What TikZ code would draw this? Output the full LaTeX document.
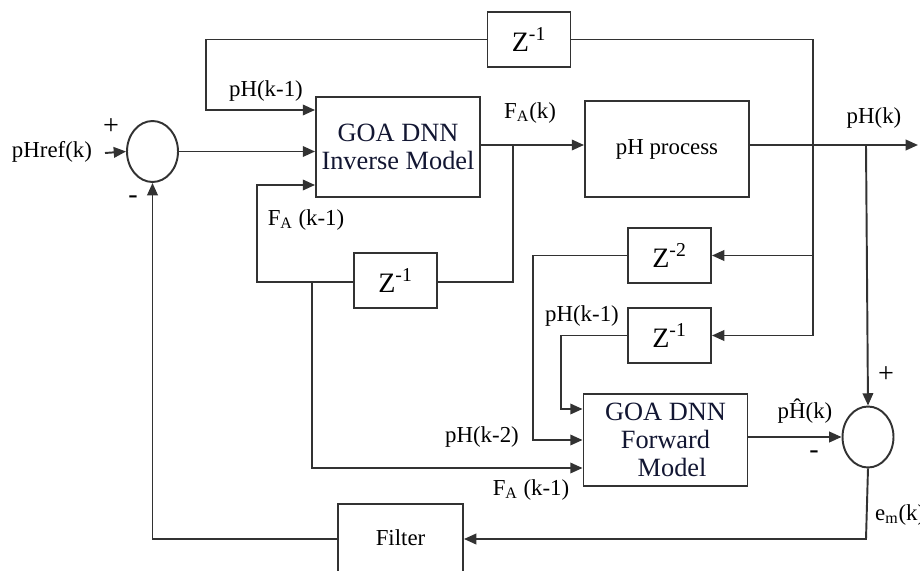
\documentclass[tikz,border=0pt]{standalone}
\usepackage{fontspec}
\setmainfont{Liberation Serif}
\usetikzlibrary{arrows.meta,shapes.geometric,positioning,calc}
\definecolor{linegray}{RGB}{50,50,50}
\definecolor{modelink}{RGB}{18,22,50}
\tikzset{
  blockbox/.style  = {draw=linegray, line width=1.1pt, inner sep=0pt,
                      font=\fontsize{13}{15}\selectfont},
  delaybox/.style  = {blockbox, minimum width=1.66cm, minimum height=1.1cm,
                      font=\fontsize{16}{18}\selectfont},
  modelbox/.style  = {blockbox, minimum width=3.28cm, text=modelink,
                      align=center, font=\fontsize{15}{16}\selectfont},
  sumnode/.style   = {ellipse, draw=linegray, line width=1.1pt,
                      minimum width=1.02cm, minimum height=1.22cm, inner sep=0pt},
  sig/.style       = {draw=linegray, line width=1.1pt},
  sigarrow/.style  = {sig, -{Triangle[length=7pt,width=6pt]}},
  siglab/.style    = {inner sep=1pt, font=\fontsize{13}{15}\selectfont},
  signlab/.style   = {inner sep=0pt, font=\fontsize{16}{18}\selectfont},
}
\newcommand{\zinv}[1]{Z\textsuperscript{-#1}}
\begin{document}
\begin{tikzpicture}[x=0.02cm, y=-0.02cm]
  \useasboundingbox (0,0) rectangle (920,571);
  % blocks
  \node[modelbox, minimum height=2cm]    (inv)  at (398,147) {GOA DNN\\Inverse Model};
  \node[blockbox, minimum width=3.28cm, minimum height=1.92cm] (proc) at (667,149) {pH process};
  \node[modelbox, minimum height=1.84cm] (fwd)  at (665.5,440) {GOA DNN\\Forward\\\hspace*{0.5em}Model};
  \node[delaybox] (ztop) at (529,39.5)    {\zinv{1}};
  \node[delaybox] (zfa)  at (395.5,280.5) {\zinv{1}};
  \node[delaybox] (ztwo) at (669.5,255.5) {\zinv{2}};
  \node[delaybox] (zone) at (669.5,335.5) {\zinv{1}};
  \node[blockbox, minimum width=2.5cm, minimum height=1.36cm] (filt) at (400.5,538) {Filter};
  \node[sumnode] (s1) at (152.5,151.5) {};
  \node[sumnode] (s2) at (868,437) {};
  % junctions and free ends
  \coordinate (refin) at (105,153);
  \coordinate (yout)  at (918,145);
  \coordinate (jy)    at (813,145);
  \coordinate (jm)    at (866,145);
  \coordinate (jfa)   at (513,145);
  \coordinate (jfb)   at (312,282);
  % signals
  \draw[sigarrow] (refin) -- (s1.west);
  \draw[sigarrow] (s1.east) -- (s1.east -| inv.west);
  \draw[sig] (jy) -- (813,39.5) -- (ztop.east);
  \draw[sigarrow] (ztop.west) -- (206,39.5) -- (206,110) -- (inv.west |- 0,110);
  \draw[sigarrow] (inv.east |- jfa) -- (proc.west |- jfa);
  \draw[sig] (jfa) -- (513,282) -- (zfa.east |- 0,282);
  \draw[sigarrow] (zfa.west |- 0,282) -- (257,282) -- (257,185) -- (inv.west |- 0,185);
  \draw[sigarrow] (jfb) -- (312,468) -- (fwd.west |- 0,468);
  \draw[sigarrow] (proc.east |- yout) -- (yout);
  \draw[sigarrow] (jy) -- (813,335.5) -- (zone.east);
  \draw[sigarrow] (813,255.5) -- (ztwo.east);
  \draw[sigarrow] (ztwo.west) -- (533,255.5) -- (533,440) -- (fwd.west |- 0,440);
  \draw[sigarrow] (zone.west) -- (561,335.5) -- (561,409) -- (fwd.west |- 0,409);
  \draw[sigarrow] (jm) -- (s2.north);
  \draw[sigarrow] (fwd.east |- s2.west) -- (s2.west);
  \draw[sigarrow] (s2.south) -- (866,539) -- (filt.east |- 0,539);
  \draw[sigarrow] (filt.west |- 0,539) -- (152.5,539) -- (s1.south);
  % labels
  \node[siglab, anchor=east] (lref) at (94,152) {pHref(k)};
  \node[signlab] (p1) at (111,127) {+};
  \node[signlab] (m1) at (133,200) {-};
  \node[siglab] (lpha)  at (266,91)  {pH(k-1)};
  \node[siglab] (lfab)  at (306,220) {F\textsubscript{A} (k-1)};
  \node[siglab] (lfak)  at (530,113) {F\textsubscript{A}(k)};
  \node[siglab] (lphk)  at (874,118) {pH(k)};
  \node[siglab] (lphb)  at (582,316) {pH(k-1)};
  \node[siglab] (lphc)  at (482,437) {pH(k-2)};
  \node[siglab] (lfac)  at (531,490) {F\textsubscript{A} (k-1)};
  \node[siglab] (lhat)  at (805,411) {p\^{H}(k)};
  \node[signlab] (p2) at (886,375) {+};
  \node[signlab] (m2) at (814,455) {-};
  \node[siglab, anchor=west] (lem) at (873,515) {e\textsubscript{m}(k)};
\end{tikzpicture}
\end{document}
